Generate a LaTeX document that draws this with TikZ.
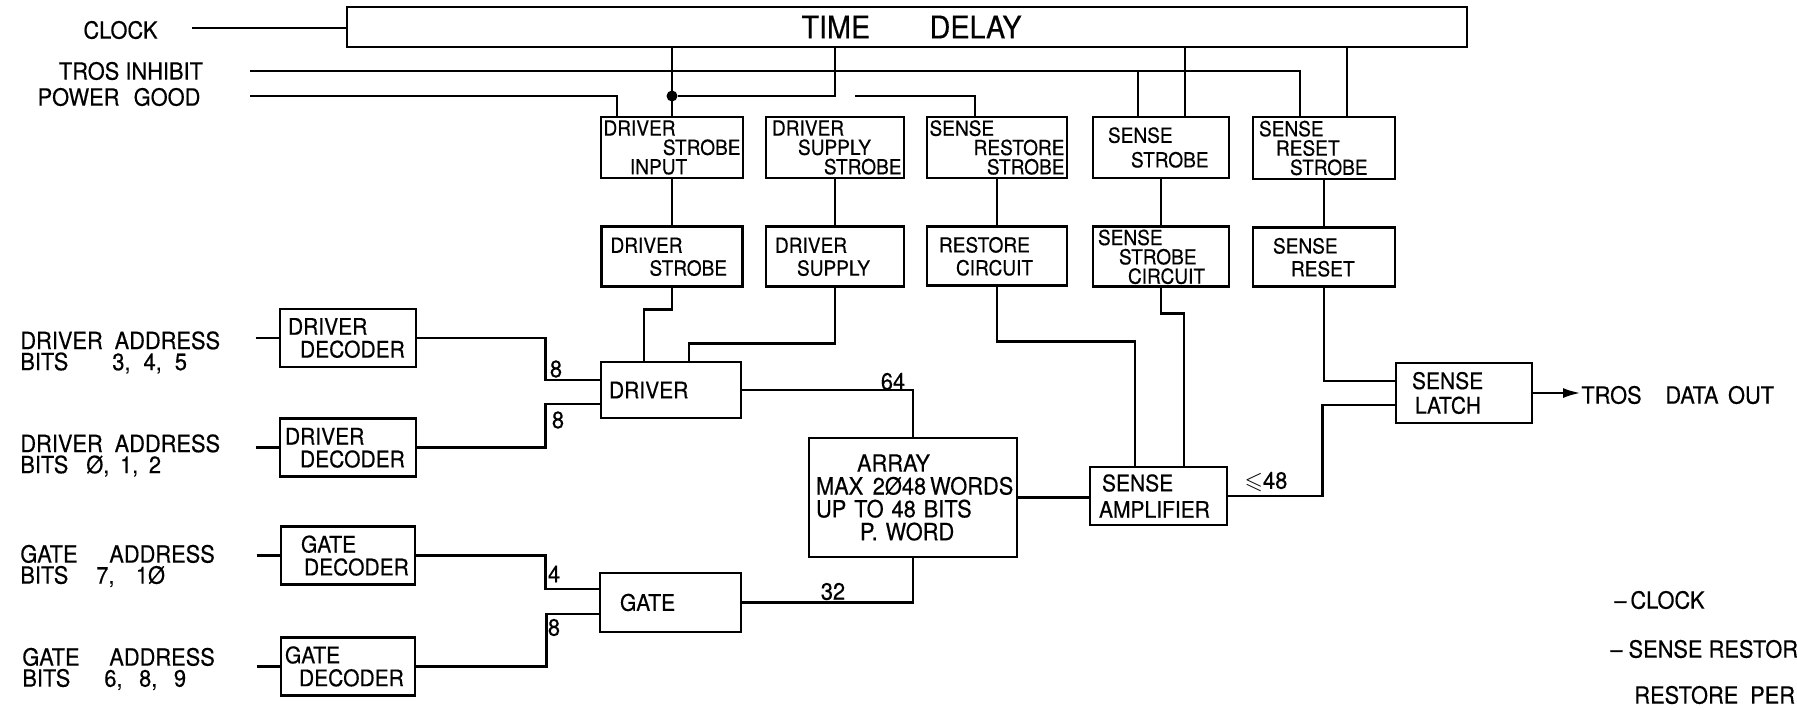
\documentclass[tikz,border=0pt]{standalone}
\usepackage{amssymb}
\usepackage{fontspec}
\setmainfont{TeX Gyre Heros}[FakeStretch=0.92, FakeBold=0.4]
\usetikzlibrary{arrows.meta, positioning, calc}

\newcommand{\rt}{\hspace*{0pt plus 1filll}}

\begin{document}
\begin{tikzpicture}[x=0.2mm, y=-0.2mm,
    box/.style={draw, line width=1.6pt, inner xsep=0.5mm, inner ysep=0pt,
                align=left, font=\fontsize{13}{13}\selectfont},
    unit/.style={box, font=\fontsize{11.8}{11}\selectfont},
    lbl/.style={inner sep=0pt, align=left, font=\fontsize{13.5}{12}\selectfont},
    num/.style={inner sep=0pt, font=\fontsize{13.5}{14}\selectfont},
    wire/.style={line width=1.6pt},
    arr/.style={-{Latex[length=3.6mm, width=2mm]}, line width=1.6pt},
    dot/.style={circle, fill, inner sep=0pt, minimum size=2.2mm}
]
    \clip (0,0) rectangle (1797,709);

    % timing
    \node[box, text width=223mm, minimum height=8mm, align=center,
          font=\fontsize{17.8}{18}\selectfont] (td) at (907,27) {\hspace*{1.8mm}TIME\hspace{1.9em}DELAY};

    \node[unit, text width=27.4mm, minimum height=12.2mm] (dsi) at (672,147.5)
          {DRIVER\\\rt STROBE\\\hspace*{5.3mm}INPUT};
    \node[unit, text width=26.6mm, minimum height=12.2mm] (dss) at (835,147.5)
          {\hspace*{0.7mm}DRIVER\\\hspace*{5.9mm}SUPPLY\\\rt STROBE};
    \node[unit, text width=27mm, minimum height=12.2mm] (srs) at (997,147.5)
          {SENSE\\\rt RESTORE\\\rt STROBE};
    \node[unit, text width=26.2mm, minimum height=12.2mm] (ss) at (1161,147.5)
          {\hspace*{2.5mm}SENSE\\[3pt]\hspace*{7.1mm}STROBE};
    \node[unit, text width=27.4mm, minimum height=12.4mm] (srst) at (1324,148)
          {\hspace*{0.7mm}SENSE\\\hspace*{4.1mm}RESET\\\hspace*{6.9mm}STROBE};

    \node[unit, text width=27.2mm, minimum height=12mm, below=9.2mm of dsi] (ds)
          {\hspace*{1.3mm}DRIVER\\[2pt]\hspace*{9.1mm}STROBE};
    \node[unit, text width=26.6mm, minimum height=12mm, below=9.2mm of dss] (dsup)
          {\hspace*{1.3mm}DRIVER\\[2pt]\hspace*{5.7mm}SUPPLY};
    \node[unit, text width=27mm, minimum height=11.8mm, below=9.2mm of srs] (rc)
          {\hspace*{1.9mm}RESTORE\\[2pt]\hspace*{5.3mm}CIRCUIT};
    \node[unit, text width=26.2mm, minimum height=12mm, below=9.2mm of ss] (ssc)
          {\hspace*{0.5mm}SENSE\\\hspace*{4.7mm}STROBE\\\hspace*{6.5mm}CIRCUIT};
    \node[unit, text width=27.4mm, minimum height=11.8mm, below=9.2mm of srst] (sre)
          {\hspace*{3.5mm}SENSE\\[2pt]\hspace*{7.1mm}RESET};

    % address decoders
    \node[box, text width=26.2mm, minimum height=11.6mm] (dd1) at (348,338)
          {\hspace*{1.1mm}DRIVER\\\hspace*{3.5mm}DECODER};
    \node[box, text width=26.2mm, minimum height=11.6mm, below=9.8mm of dd1] (dd2)
          {\hspace*{0.5mm}DRIVER\\\hspace*{3.5mm}DECODER};
    \node[box, text width=25.8mm, minimum height=11.6mm, below=9.4mm of dd2] (gd1)
          {\hspace*{3.5mm}GATE\\\hspace*{4.1mm}DECODER};
    \node[box, text width=25.8mm, minimum height=11.6mm, below=10mm of gd1] (gd2)
          {\hspace*{0.3mm}GATE\\\hspace*{3.1mm}DECODER};

    \node[box, text width=27mm, minimum height=11.2mm] (drv) at (671,390)
          {\hspace*{1.1mm}DRIVER};
    \node[box, text width=27.2mm, minimum height=11.8mm] (gate) at (670.5,602.5)
          {\hspace*{3.5mm}GATE};
    \node[box, text width=40.6mm, minimum height=23.8mm,
          font=\fontsize{13.5}{13}\selectfont] (ary) at (913,497.5)
          {\hspace*{9.1mm}ARRAY\\\mbox{\hspace*{0.9mm}MAX\hspace{0.4em}2Ø48\,WORDS}\\
           \mbox{\hspace*{0.9mm}UP TO 48 BITS}\\\hspace*{9.7mm}P.\ WORD};
    \node[box, text width=26.4mm, minimum height=11.6mm] (sa) at (1158.5,496)
          {\hspace*{1.9mm}SENSE\\[2pt]\hspace*{1.3mm}AMPLIFIER};
    \node[box, text width=26.2mm, minimum height=12mm] (sl) at (1464,393)
          {\hspace*{2.7mm}SENSE\\[1pt]\hspace*{3.3mm}LATCH};

    % signal names
    \node[lbl] (clk) at (120.5,30) {CLOCK};
    \node[lbl] (tinh) at (131,71) {TROS INHIBIT};
    \node[lbl] (pgood) at (119,97) {POWER\hspace{0.6em}GOOD};
    \node[lbl, anchor=west] (da1) at (20,352.5)
          {DRIVER\hspace{0.5em}ADDRESS\\\makebox[18.4mm][l]{BITS}3,\hspace{0.55em}4,\hspace{0.55em}5};
    \node[lbl, anchor=west] (da2) at (20,455.5)
          {DRIVER\hspace{0.5em}ADDRESS\\\makebox[13.2mm][l]{BITS}Ø,\hspace{0.45em}1,\hspace{0.45em}2};
    \node[lbl, anchor=west] (ga1) at (20,566)
          {\makebox[17.8mm][l]{GATE}ADDRESS\\\makebox[15.2mm][l]{BITS}7,\hspace{0.9em}1Ø};
    \node[lbl, anchor=west] (ga2) at (22,669)
          {\makebox[17.4mm][l]{GATE}ADDRESS\\\makebox[16.4mm][l]{BITS}6,\hspace{0.7em}8,\hspace{0.7em}9};

    \node[num] (n1) at (556,369) {8};
    \node[num] (n2) at (558,420) {8};
    \node[num] (n3) at (554,574) {4};
    \node[num] (n4) at (554,627.5) {8};
    \node[num] (n64) at (893,381.5) {64};
    \node[num] (n32) at (833,591.5) {32};
    \node[num] (n48) at (1266,482) {$\leqslant$48};

    \node[lbl, anchor=west] (out) at (1581,395) {TROS\hspace{1em}DATA\hspace{0.4em}OUT};
    \node[lbl, anchor=west] (lg1) at (1614,600) {--\,CLOCK};
    \node[lbl, anchor=west] (lg2) at (1610,649) {--\ SENSE RESTOR};
    \node[lbl, anchor=west] (lg3) at (1634,695) {RESTORE\hspace{0.5em}PER};

    % control lines
    \coordinate (clkin) at (192,28);
    \coordinate (tiin) at (250,71);
    \coordinate (pgin) at (250,96);
    \coordinate (pgr) at (855,96);
    \coordinate (ssb) at ($(ss.north)+(-23,0)$);
    \coordinate (ssa) at ($(ss.north)+(24,0)$);
    \coordinate (srsta) at ($(srst.north)+(23,0)$);

    \draw[wire] (clkin) -- (clkin -| td.west);
    \draw[wire] (tiin) -| ($(srst.north)+(-24,0)$);
    \draw[wire] (ssb |- tiin) -- (ssb);
    \draw[wire] (pgin) -| ($(dsi.north)+(-55,0)$);
    \node[dot] (jn) at (dsi.north |- pgin) {};
    \draw[wire] (td.south -| dsi.north) -- (dsi.north);
    \draw[wire] (td.south -| dss.north) |- (jn);
    \draw[wire] (pgr) -| ($(srs.north)+(-22,0)$);
    \draw[wire] (td.south -| ssa) -- (ssa);
    \draw[wire] (td.south -| srsta) -- (srsta);

    \draw[wire] (dsi) -- (ds);
    \draw[wire] (dss) -- (dsup);
    \draw[wire] (srs) -- (rc);
    \draw[wire] (ss) -- (ssc);
    \draw[wire] (srst) -- (sre);

    % data path
    \coordinate (dd1in) at ($(dd1.west)+(-23,0)$);
    \coordinate (dd2in) at ($(dd2.west)+(-23,0)$);
    \coordinate (gd1in) at ($(gd1.west)+(-23,0)$);
    \coordinate (gd2in) at ($(gd2.west)+(-23,0)$);
    \draw[wire] (dd1in) -- (dd1.west);
    \draw[wire] (dd2in) -- (dd2.west);
    \draw[wire] (gd1in) -- (gd1.west);
    \draw[wire] (gd2in) -- (gd2.west);

    \draw[wire] (ds.south) -- ++(0,21) -| ($(drv.north)+(-27,0)$);
    \draw[wire] (dsup.south) -- ++(0,55) -| ($(drv.north)+(18,0)$);
    \draw[wire] (dd1.east) -- ++(128,0) |- ($(drv.west)+(0,-10)$);
    \draw[wire] (dd2.east) -- ++(128,0) |- ($(drv.west)+(0,14)$);
    \draw[wire] (gd1.east) -- ++(129,0) |- ($(gate.west)+(0,-13.5)$);
    \draw[wire] (gd2.east) -- ++(130,0) |- ($(gate.west)+(0,11.5)$);
    \draw[wire] (drv.east) -| (ary.north);
    \draw[wire] (gate.east) -| (ary.south);
    \draw[wire] (ary.east) -- (ary.east -| sa.west);
    \draw[wire] (rc.south) -- ++(0,54) -| ($(sa.north)+(-23.5,0)$);
    \draw[wire] (ssc.south) -- ++(0,25) -| ($(sa.north)+(25.5,0)$);
    \draw[wire] (sre.south) |- ($(sl.west)+(0,-12)$);
    \draw[wire] (sa.east) -| ($(sl.west)+(-72,12)$) -- ($(sl.west)+(0,12)$);
    \draw[arr] (sl.east) -- (sl.east -| out.west);
\end{tikzpicture}
\end{document}
